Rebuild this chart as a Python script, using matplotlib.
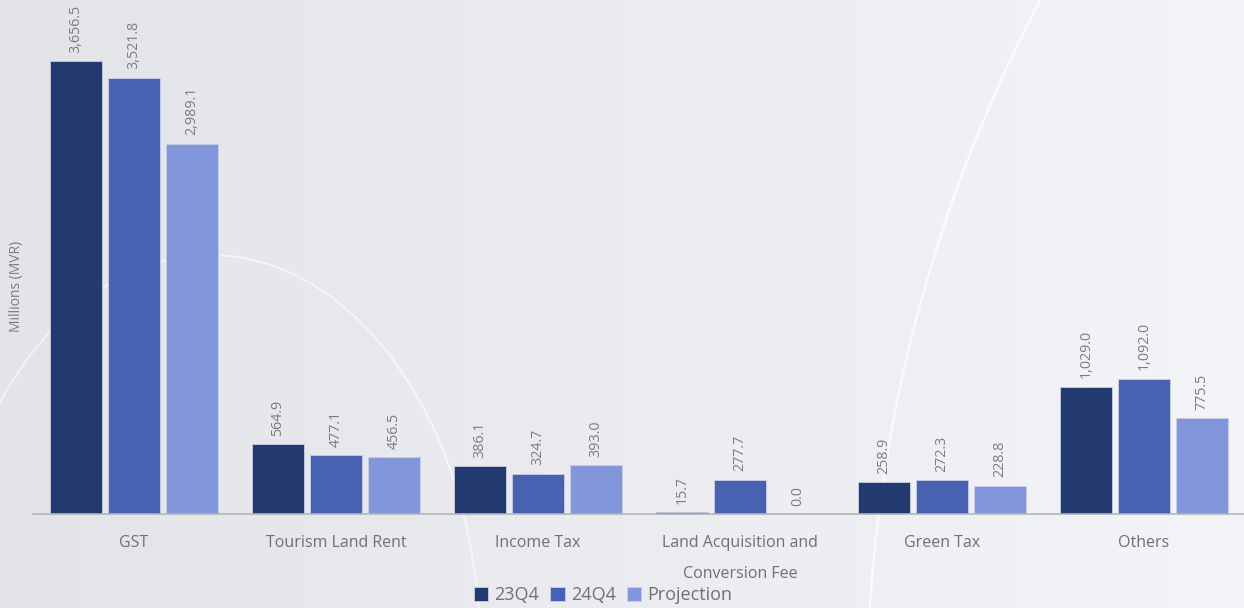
import numpy as np
import matplotlib.pyplot as plt
from matplotlib.patches import Ellipse
from matplotlib.colors import LinearSegmentedColormap

categories = ['GST', 'Tourism Land Rent', 'Income Tax', 'Land Acquisition and\nConversion Fee',
              'Green Tax', 'Others']
q23 = [3656.5, 564.9, 386.1, 15.7, 258.9, 1029.0]
q24 = [3521.8, 477.1, 324.7, 277.7, 272.3, 1092.0]
proj = [2989.1, 456.5, 393.0, 0.0, 228.8, 775.5]
series_names = ['23Q4', '24Q4', 'Projection']
colors = ['#223a70', '#4862b3', '#8297db']

W, H = 1244, 608
fig = plt.figure(figsize=(W / 100, H / 100), dpi=100)

# background gradient with faint arcs
bg = fig.add_axes([0, 0, 1, 1])
grad = np.vstack([np.linspace(0, 1, 256)] * 2)
cmap = LinearSegmentedColormap.from_list('bg', ['#e2e4e8', '#eaecf0', '#f2f4f7'])
bg.imshow(grad, aspect='auto', cmap=cmap, extent=[0, 1, 0, 1])
bg.add_patch(Ellipse((210 / W, 1 - 650 / H), 540 / W, 790 / H, fill=False,
                     ec='white', lw=1.5, alpha=0.55))
bg.add_patch(Ellipse((2367 / W, 1 - 700 / H), 3000 / W, 3000 / H, fill=False,
                     ec='white', lw=1.8, alpha=0.7))
bg.set_xlim(0, 1)
bg.set_ylim(0, 1)
bg.axis('off')

ax = fig.add_axes([33 / W, (H - 514) / H, 1212 / W, 514 / H])
ax.patch.set_alpha(0)

x = np.arange(len(categories))
width = 0.262
step = 0.287
for i, (vals, name) in enumerate(zip([q23, q24, proj], series_names)):
    bars = ax.bar(x + (i - 1) * step, vals, width, color=colors[i], label=name,
                  edgecolor='#c8cfe6', linewidth=0.6)
    for b, v in zip(bars, vals):
        ax.annotate(f'{v:,.1f}', (b.get_x() + b.get_width() / 2, v),
                    xytext=(0, 6), textcoords='offset points', rotation=90,
                    ha='center', va='bottom', fontsize=10.3, color='#7c7c7c',
                    family='Open Sans')

ax.set_xlim(-0.5, 5.5)
ax.set_ylim(0, 4149)
for s in ['top', 'right', 'left']:
    ax.spines[s].set_visible(False)
ax.spines['bottom'].set_color('#b4b4b4')
ax.spines['bottom'].set_linewidth(1.2)
ax.set_yticks([])
ax.set_xticks(x)
ax.set_xticklabels(categories, fontsize=11.5, color='#707070', family='Open Sans',
                   linespacing=2.3)
ax.tick_params(axis='x', length=0, pad=15)

fig.text(17 / W, 1 - 286 / H, 'Millions (MVR)', rotation=90, ha='center', va='center',
         fontsize=10, color='#7c7c7c', family='Open Sans')

fig.legend(loc='center', bbox_to_anchor=(603 / W, 1 - 595 / H), ncol=3, frameon=False,
           handlelength=0.8, handleheight=0.8, handletextpad=0.35,
           columnspacing=0.6, labelcolor='#707070', prop={'family': 'Open Sans', 'size': 13})

fig.savefig('out.png', dpi=100)
